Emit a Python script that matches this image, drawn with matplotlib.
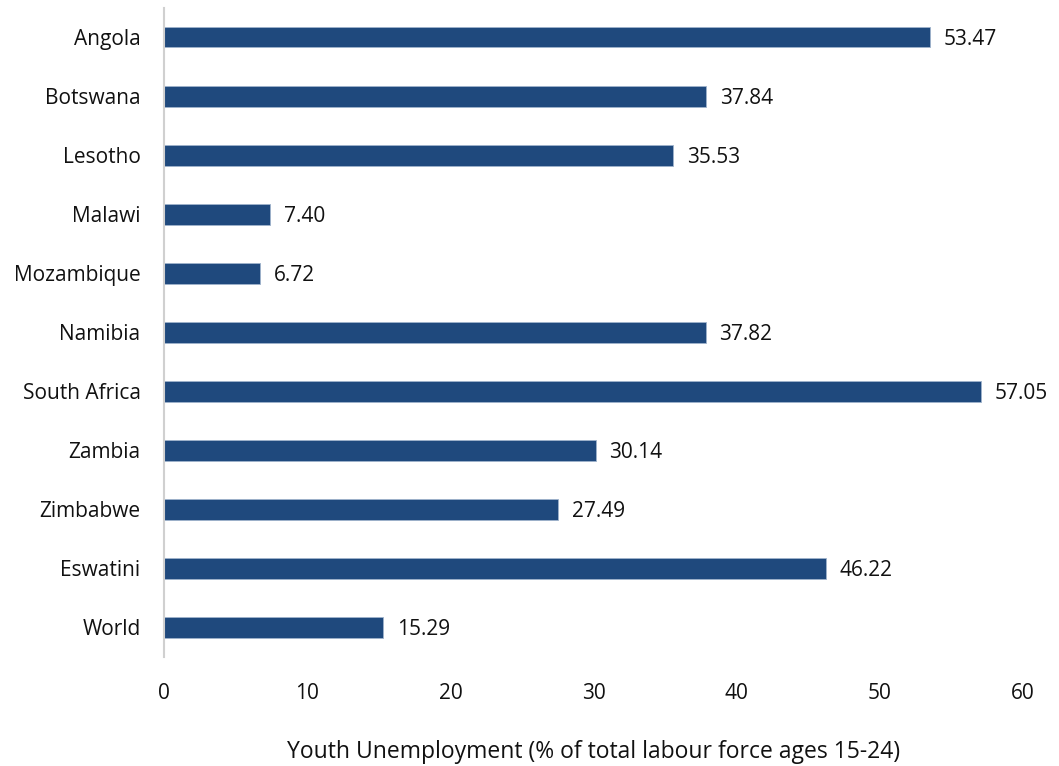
import matplotlib
matplotlib.use("Agg")
import matplotlib.pyplot as plt

countries = ["Angola", "Botswana", "Lesotho", "Malawi", "Mozambique", "Namibia",
             "South Africa", "Zambia", "Zimbabwe", "Eswatini", "World"]
unemployment = [53.47, 37.84, 35.53, 7.40, 6.72, 37.82, 57.05, 30.14, 27.49, 46.22, 15.29]
xticks = [0, 10, 20, 30, 40, 50, 60]

plt.rcParams["font.family"] = ["Open Sans", "DejaVu Sans"]

fig = plt.figure(figsize=(10.59, 7.66), dpi=100)
ax = fig.add_axes([0.155, 0.1423, 0.811, 0.8473])

pos = list(range(len(countries)))[::-1]
ax.barh(pos, unemployment, height=0.34, color="#1F497D", edgecolor="#9FB3CC", linewidth=0.6)

# value labels just right of each bar
for p, v in zip(pos, unemployment):
    ax.annotate(f"{v:.2f}", (v, p), xytext=(10, 0), textcoords="offset points",
                va="center_baseline", ha="left", fontsize=15, color="#111111")

ax.set_xlim(0, 60)
ax.set_ylim(-0.5, len(countries) - 0.5)
ax.set_xticks(xticks)
ax.set_yticks(pos)
ax.set_yticklabels(countries)
ax.tick_params(axis="both", length=0, labelsize=15, colors="#111111")
ax.tick_params(axis="y", pad=17)
ax.tick_params(axis="x", pad=19)

for s in ["top", "right", "bottom"]:
    ax.spines[s].set_visible(False)
ax.spines["left"].set_color("#D0D0D0")
ax.spines["left"].set_linewidth(1.5)

ax.set_xlabel("Youth Unemployment (% of total labour force ages 15-24)", fontsize=16.5,
              labelpad=26, color="#111111")

fig.savefig("out.png", dpi=100)
